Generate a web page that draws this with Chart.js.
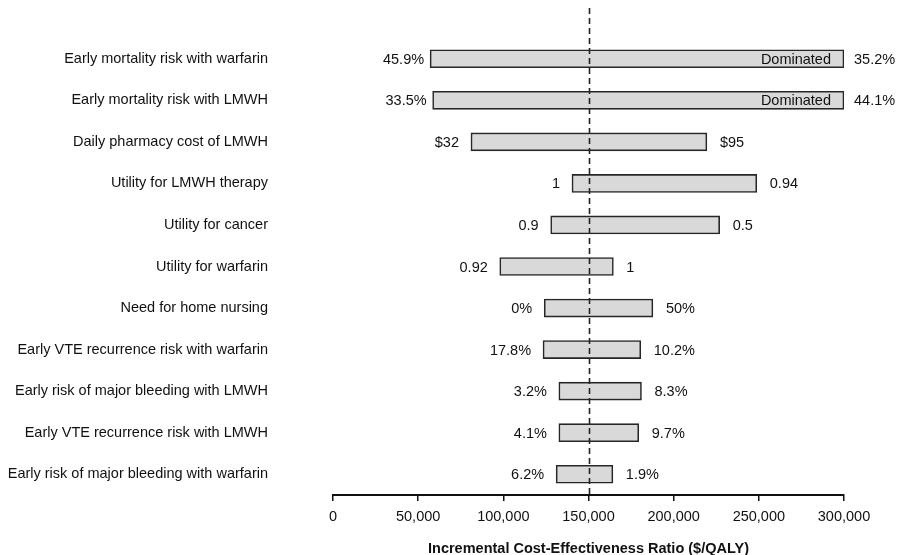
<!DOCTYPE html>
<html>
<head>
<meta charset="utf-8">
<script src="https://cdn.jsdelivr.net/npm/chart.js@4/dist/chart.umd.min.js"></script>
<style>
  html, body { margin: 0; padding: 0; background: #fff; }
  #wrap { width: 902px; height: 555px; position: relative; }
</style>
</head>
<body>
<div id="wrap"><canvas id="tornado"></canvas></div>
<script>
// parameters, top to bottom
const categories = [
    'Early mortality risk with warfarin',
    'Early mortality risk with LMWH',
    'Daily pharmacy cost of LMWH',
    'Utility for LMWH therapy',
    'Utility for cancer',
    'Utility for warfarin',
    'Need for home nursing',
    'Early VTE recurrence risk with warfarin',
    'Early risk of major bleeding with LMWH',
    'Early VTE recurrence risk with LMWH',
    'Early risk of major bleeding with warfarin'
];

// ICER at each end of the bar ($/QALY)
const lowIcer  = [57000, 58500, 81000, 140300, 127800, 97900, 124000, 123300, 132600, 132600, 131000];
const highIcer = [300000, 300000, 219500, 248800, 227000, 164600, 187800, 180700, 181100, 179500, 164300];

// parameter values written next to each end
const lowLabels  = ['45.9%', '33.5%', '$32', '1', '0.9', '0.92', '0%', '17.8%', '3.2%', '4.1%', '6.2%'];
const highLabels = ['35.2%', '44.1%', '$95', '0.94', '0.5', '1', '50%', '10.2%', '8.3%', '9.7%', '1.9%'];
const innerLabels = ['Dominated', 'Dominated', '', '', '', '', '', '', '', '', ''];

const baseIcer = 150000;  // base case, dashed line
const xTicks = [0, 50000, 100000, 150000, 200000, 250000, 300000];

const FONT = '"Liberation Sans", Arial, Helvetica, sans-serif';
const FSIZE = 14.5;

// dashed base-case line + value labels at the bar ends
const tornadoLabels = {
    id: 'tornadoLabels',
    afterDatasetsDraw(chart) {
        const ctx = chart.ctx;
        const x = chart.scales.x;
        const y = chart.scales.y;

        ctx.save();
        ctx.strokeStyle = '#222';
        ctx.lineWidth = 1.6;
        ctx.setLineDash([6, 4]);
        const bx = Math.round(x.getPixelForValue(baseIcer)) + 0.5;
        ctx.beginPath();
        ctx.moveTo(bx, 8);
        ctx.lineTo(bx, chart.chartArea.bottom);
        ctx.stroke();
        ctx.restore();

        ctx.save();
        ctx.font = FSIZE + 'px ' + FONT;
        ctx.fillStyle = '#111';
        ctx.textBaseline = 'middle';
        categories.forEach((c, i) => {
            const cy = y.getPixelForValue(i) + 1;
            const x0 = x.getPixelForValue(lowIcer[i]);
            const x1 = x.getPixelForValue(highIcer[i]);
            const gapL = innerLabels[i] ? 6 : 12;
            const gapR = innerLabels[i] ? 10 : 13;
            ctx.textAlign = 'right';
            ctx.fillText(lowLabels[i], x0 - gapL, cy);
            ctx.textAlign = 'left';
            ctx.fillText(highLabels[i], x1 + gapR, cy);
            if (innerLabels[i]) {
                ctx.textAlign = 'right';
                ctx.fillText(innerLabels[i], x1 - 13, cy);
            }
        });
        ctx.restore();
    }
};

new Chart(document.getElementById('tornado'), {
    type: 'bar',
    data: {
        labels: categories,
        datasets: [{
            data: categories.map((c, i) => [lowIcer[i], highIcer[i]]),
            backgroundColor: '#d9d9d9',
            borderColor: '#262626',
            borderWidth: 1.6,
            borderSkipped: false,
            barThickness: 18
        }]
    },
    options: {
        indexAxis: 'y',
        responsive: true,
        maintainAspectRatio: false,
        animation: false,
        layout: {
            padding: { top: 38, right: 58, bottom: 0, left: 0 }
        },
        plugins: {
            legend: { display: false },
            tooltip: { enabled: false }
        },
        scales: {
            x: {
                type: 'linear',
                min: 0,
                max: 300000,
                afterBuildTicks: (scale) => {
                    scale.ticks = xTicks.map(v => ({ value: v }));
                },
                afterFit: (scale) => { scale.height = 60; },
                ticks: {
                    color: '#111',
                    font: { family: FONT, size: FSIZE },
                    padding: 7,
                    maxRotation: 0,
                    callback: (v) => v.toLocaleString('en-US')
                },
                grid: {
                    drawOnChartArea: false,
                    drawTicks: true,
                    tickLength: 6,
                    color: '#111',
                    lineWidth: 1.5
                },
                border: { display: true, color: '#111', width: 2 },
                title: {
                    display: true,
                    text: 'Incremental Cost-Effectiveness Ratio ($/QALY)',
                    color: '#111',
                    font: { family: FONT, size: FSIZE, weight: 'bold' },
                    padding: { top: 10, bottom: -3 }
                }
            },
            y: {
                afterFit: (scale) => {
                    scale.width = 333;
                    // the big label padding must not eat vertical space
                    scale.paddingTop = 0;
                    scale.paddingBottom = 0;
                },
                ticks: {
                    color: '#111',
                    font: { family: FONT, size: FSIZE },
                    padding: 57
                },
                grid: { display: false },
                border: { display: false }
            }
        }
    },
    plugins: [tornadoLabels]
});
</script>
</body>
</html>
